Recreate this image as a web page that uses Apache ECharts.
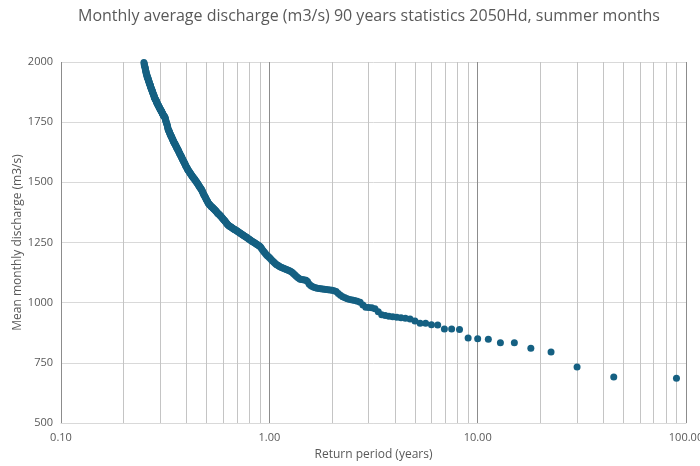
<!DOCTYPE html>
<html>
<head>
<meta charset="utf-8">
<script src="https://cdn.jsdelivr.net/npm/echarts@6/dist/echarts.min.js"></script>
<style>html,body{margin:0;padding:0;background:#fff}#c{width:700px;height:466px}</style>
</head>
<body>
<div id="c"></div>
<script>
// Return period (years) of each ranked month, rank 1..360
var returnPeriods = [
90,45,30,22.5,18,15,12.857,11.25,10,9,
8.182,7.5,6.923,6.429,6,5.625,5.294,5,4.737,4.5,
4.286,4.091,3.913,3.75,3.6,3.462,3.333,3.214,3.103,3,
2.903,2.813,2.727,2.647,2.571,2.5,2.432,2.368,2.308,2.25,
2.195,2.143,2.093,2.045,2,1.957,1.915,1.875,1.837,1.8,
1.765,1.731,1.698,1.667,1.636,1.607,1.579,1.552,1.525,1.5,
1.475,1.452,1.429,1.406,1.385,1.364,1.343,1.324,1.304,1.286,
1.268,1.25,1.233,1.216,1.2,1.184,1.169,1.154,1.139,1.125,
1.111,1.098,1.084,1.071,1.059,1.047,1.034,1.023,1.011,1,
0.989,0.978,0.968,0.957,0.947,0.938,0.928,0.918,0.909,0.9,
0.891,0.882,0.874,0.865,0.857,0.849,0.841,0.833,0.826,0.818,
0.811,0.804,0.796,0.789,0.783,0.776,0.769,0.763,0.756,0.75,
0.744,0.738,0.732,0.726,0.72,0.714,0.709,0.703,0.698,0.692,
0.687,0.682,0.677,0.672,0.667,0.662,0.657,0.652,0.647,0.643,
0.638,0.634,0.629,0.625,0.621,0.616,0.612,0.608,0.604,0.6,
0.596,0.592,0.588,0.584,0.581,0.577,0.573,0.57,0.566,0.563,
0.559,0.556,0.552,0.549,0.545,0.542,0.539,0.536,0.533,0.529,
0.526,0.523,0.52,0.517,0.514,0.511,0.508,0.506,0.503,0.5,
0.497,0.495,0.492,0.489,0.486,0.484,0.481,0.479,0.476,0.474,
0.471,0.469,0.466,0.464,0.462,0.459,0.457,0.455,0.452,0.45,
0.448,0.446,0.443,0.441,0.439,0.437,0.435,0.433,0.431,0.429,
0.427,0.425,0.423,0.421,0.419,0.417,0.415,0.413,0.411,0.409,
0.407,0.405,0.404,0.402,0.4,0.398,0.396,0.395,0.393,0.391,
0.39,0.388,0.386,0.385,0.383,0.381,0.38,0.378,0.377,0.375,
0.373,0.372,0.37,0.369,0.367,0.366,0.364,0.363,0.361,0.36,
0.359,0.357,0.356,0.354,0.353,0.352,0.35,0.349,0.347,0.346,
0.345,0.344,0.342,0.341,0.34,0.338,0.337,0.336,0.335,0.333,
0.332,0.331,0.33,0.328,0.327,0.326,0.325,0.324,0.323,0.321,
0.32,0.319,0.318,0.317,0.316,0.315,0.314,0.313,0.311,0.31,
0.309,0.308,0.307,0.306,0.305,0.304,0.303,0.302,0.301,0.3,
0.299,0.298,0.297,0.296,0.295,0.294,0.293,0.292,0.291,0.29,
0.289,0.288,0.288,0.287,0.286,0.285,0.284,0.283,0.282,0.281,
0.28,0.28,0.279,0.278,0.277,0.276,0.275,0.274,0.274,0.273,
0.272,0.271,0.27,0.269,0.269,0.268,0.267,0.266,0.265,0.265,
0.264,0.263,0.262,0.262,0.261,0.26,0.259,0.259,0.258,0.257,
0.256,0.256,0.255,0.254,0.254,0.253,0.252,0.251,0.251,0.25
];
// Mean monthly discharge (m3/s), same ranks
var discharge = [
686,691,733,795,811,833,833,848,850,853,
888,891,891,907,908,914,914,924,932,935,
937,939,941,944,947,950,962,975,979,980,
981,990,1002,1006,1009,1011,1013,1016,1020,1025,
1031,1038,1046,1049,1052,1053,1054,1055,1056,1057,
1058,1059,1060,1062,1064,1067,1071,1078,1088,1093,
1094,1095,1096,1097,1101,1106,1111,1116,1121,1126,
1130,1133,1135,1137,1139,1141,1143,1145,1147,1149,
1152,1155,1158,1162,1166,1170,1174,1178,1183,1188,
1192,1195,1199,1204,1209,1214,1219,1225,1230,1234,
1237,1240,1242,1244,1247,1249,1251,1253,1255,1257,
1260,1262,1265,1268,1270,1272,1274,1276,1278,1280,
1282,1284,1286,1288,1290,1293,1295,1297,1299,1301,
1302,1304,1305,1307,1309,1311,1313,1315,1317,1319,
1321,1323,1326,1329,1332,1336,1339,1342,1345,1348,
1351,1354,1357,1360,1362,1364,1367,1369,1371,1374,
1377,1380,1382,1385,1387,1389,1391,1393,1396,1398,
1400,1403,1405,1407,1410,1412,1415,1419,1423,1427,
1431,1435,1439,1443,1447,1451,1455,1460,1464,1468,
1471,1474,1477,1480,1483,1486,1489,1492,1495,1498,
1500,1503,1506,1509,1512,1514,1516,1518,1520,1522,
1525,1527,1530,1533,1536,1538,1541,1544,1546,1549,
1551,1554,1557,1561,1564,1567,1570,1574,1577,1580,
1583,1587,1590,1593,1596,1600,1603,1606,1609,1613,
1616,1619,1622,1625,1628,1632,1635,1638,1640,1643,
1646,1649,1652,1655,1658,1660,1663,1666,1669,1672,
1675,1678,1681,1684,1688,1691,1694,1697,1700,1703,
1707,1710,1713,1716,1720,1725,1730,1735,1740,1745,
1750,1754,1759,1763,1768,1770,1772,1775,1777,1779,
1782,1784,1786,1789,1791,1794,1796,1798,1801,1803,
1805,1808,1810,1812,1815,1817,1820,1822,1825,1827,
1830,1832,1835,1837,1840,1842,1844,1847,1849,1852,
1855,1859,1862,1865,1868,1872,1875,1878,1881,1884,
1888,1891,1894,1897,1901,1904,1907,1910,1914,1917,
1920,1923,1927,1930,1933,1936,1939,1943,1946,1951,
1955,1960,1964,1969,1974,1978,1983,1988,1993,1998
];
// minor vertical gridline positions on the log axis
var minorGridX = [0.2,0.3,0.4,0.5,0.6,0.7,0.8,0.9,2,3,4,5,6,7,8,9,20,30,40,50,60,70,80,90];
var titleText = 'Monthly average discharge (m3/s) 90 years statistics 2050Hd, summer months';
var xName = 'Return period (years)';
var yName = 'Mean monthly discharge (m3/s)';

var points = returnPeriods.map(function (t, i) { return [t, discharge[i]]; });
var FONT = 'Open Sans';
var chart = echarts.init(document.getElementById('c'), null, {renderer: 'canvas'});
chart.setOption({
  animation: false,
  backgroundColor: '#ffffff',
  title: {
    text: titleText, left: 73, top: 3,
    textStyle: {fontFamily: FONT, fontSize: 16, fontWeight: 'normal', color: '#595959'}
  },
  grid: {left: 61, right: 14, top: 62, bottom: 43, containLabel: false, outerBoundsMode: 'none'},
  xAxis: {
    type: 'log', logBase: 10, min: 0.1, max: 100,
    name: xName, nameLocation: 'middle', nameGap: 26, nameMoveOverlap: false,
    nameTextStyle: {fontFamily: FONT, fontSize: 12, color: '#595959'},
    axisLine: {show: true, lineStyle: {color: '#d9d9d9'}},
    axisTick: {show: false},
    axisLabel: {fontFamily: FONT, fontSize: 11, color: '#595959', margin: 9,
      formatter: function (v) { return Number(v).toFixed(2); }},
    splitLine: {show: true, lineStyle: {color: '#8c8c8c', width: 1}}
  },
  yAxis: {
    type: 'value', min: 500, max: 2000, interval: 250,
    name: yName, nameLocation: 'middle', nameGap: 37, nameRotate: 90, nameMoveOverlap: false,
    nameTextStyle: {fontFamily: FONT, fontSize: 12, color: '#595959'},
    axisLine: {show: false}, axisTick: {show: false},
    axisLabel: {fontFamily: FONT, fontSize: 11, color: '#595959', margin: 8,
      formatter: function (v) { return String(v); }},
    splitLine: {show: true, lineStyle: {color: '#d9d9d9', width: 1}}
  },
  series: [{
    type: 'scatter',
    data: points,
    symbol: 'circle', symbolSize: 7,
    itemStyle: {color: '#156082', opacity: 1},
    z: 5,
    markLine: {
      silent: true, symbol: 'none', animation: false,
      label: {show: false},
      lineStyle: {color: '#c4c4c4', width: 1, type: 'solid'},
      data: minorGridX.map(function (v) { return {xAxis: v}; }),
      z: 1
    }
  }]
});
</script>
</body>
</html>
